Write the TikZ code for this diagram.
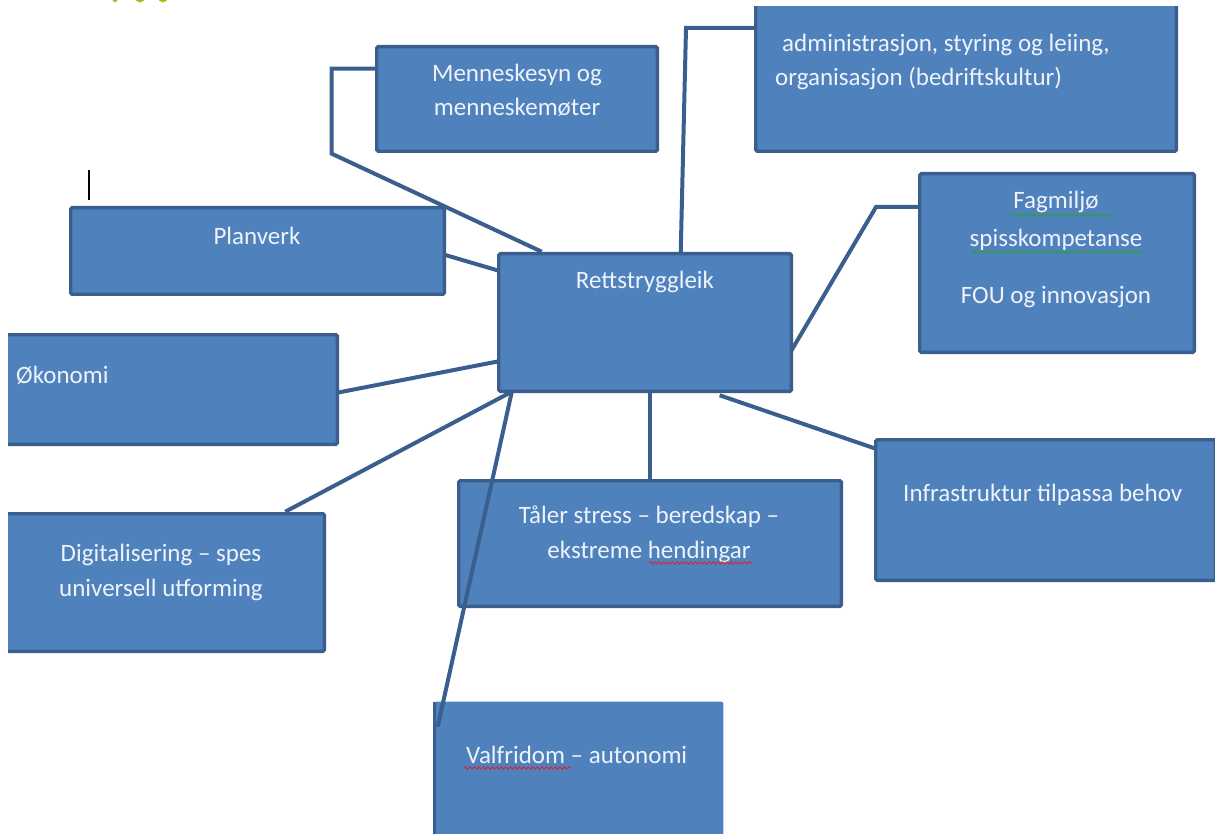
\documentclass[tikz,border=0pt]{standalone}
\usepackage{fontspec}
\setmainfont{Carlito}
\usetikzlibrary{calc,decorations.pathmorphing}

\definecolor{boxfill}{HTML}{4F81BD}
\definecolor{boxline}{HTML}{3A5F8E}
\definecolor{boxtext}{HTML}{EEF3FA}
\definecolor{spellred}{HTML}{D8262E}
\definecolor{spellgreen}{HTML}{2E9E3A}
\definecolor{headgreen}{HTML}{9CC31C}

\tikzset{
  panel/.style={draw=boxline, fill=boxfill, line width=3.4pt, rounded corners=1.5pt,
                inner sep=0pt, outer sep=0pt},
  conn/.style={draw=boxline, line width=4pt, line join=miter},
  lbl/.style={text=boxtext, font=\fontsize{25}{30}\selectfont, inner sep=0pt, anchor=base},
  lblw/.style={lbl, anchor=base west},
  wavy/.style={line width=0.9pt, decorate,
               decoration={snake, segment length=4.5pt, amplitude=1.2pt}},
}

% box given by its outer corners (x1,y1) and (x2,y2)
\newcommand\panelbox[6][]{%
  \node[panel, #1, minimum width={(#5-#3-3.4)*1pt}, minimum height={(#6-#4-3.4)*1pt}]
    (#2) at ({(#3+#5)/2},{(#4+#6)/2}) {};}

\begin{document}
\begin{tikzpicture}[x=1pt, y=-1pt]
\useasboundingbox (0,0) rectangle (1215,834);

% remnants of a green heading above the page edge
\begin{scope}
  \clip (0,0) rectangle (1215,834);
  \fill[headgreen] (115,-3) ellipse [x radius=3, y radius=5.5];
  \fill[headgreen] (140,-3) ellipse [x radius=5, y radius=5.5];
  \fill[headgreen] (163,-3) ellipse [x radius=5, y radius=5.5];
\end{scope}

% text cursor
\draw[black, line width=2.2pt] (89,170) -- (89,200);

% boxes
\begin{scope}
  \clip (8,7) rectangle (1215,834);
  \panelbox{men}{375}{45}{659}{153}
  \panelbox{adm}{754}{-20}{1178}{153}
  \panelbox{fag}{918}{172}{1196}{354}
  \panelbox{plan}{69}{206}{446}{296}
  \panelbox{ret}{497}{252}{793}{393}
  \panelbox{oko}{-20}{333}{339}{446}
  \panelbox{dig}{-20}{512}{326}{653}
  \panelbox{tal}{457}{479}{843}{608}
  \panelbox{inf}{874}{438}{1217}{582}
  \panelbox[draw=none]{val}{433}{700}{725}{850}
  \draw[boxline, line width=3.4pt] (val.north west) -- (val.south west);
\end{scope}

% connectors
\draw[conn] ($(men.north west)+(0,22)$) -- ++(-45,0) -- ++(0,85)
            -- ($(ret.north west)+(43,-2)$);
\draw[conn] ($(ret.north west)+(182,0)$) -- (686,28) -- (adm.west |- 0,28);
\draw[conn] ($(ret.north east)+(0,97)$) -- (876,207) -- (fag.west |- 0,207);
\draw[conn] ($(plan.north east)+(0,47)$) -- ($(ret.north west)+(0,17)$);
\draw[conn] ($(oko.north east)+(0,58)$) -- ($(ret.south west)+(0,-30)$);
\draw[conn] ($(dig.north east)+(-39,-2)$) -- ($(ret.south west)+(12,1)$);
\coordinate (valend) at ($(val.north west)+(3,25)$);
\draw[conn] ($(ret.south west)+(13,1)$) -- (valend);
\draw[conn] (tal.north) -- (tal.north |- ret.south);
\draw[conn] ($(ret.south west)+(221,4)$) -- ($(inf.north west)+(0,9)$);

% labels
\node[lbl]  (men-a) at (517,82)  {Menneskesyn og};
\node[lbl]  (men-b) at (517,116) {menneskemøter};
\node[lblw] (adm-a) at (782,52)  {administrasjon, styring og leiing,};
\node[lblw] (adm-b) at (775,86)  {organisasjon (bedriftskultur)};
\node[lbl]  (fag-a) at (1056,209) {Fagmiljø};
\node[lbl]  (fag-b) at (1056,247) {spisskompetanse};
\node[lbl]  (fag-c) at (1056,304) {FOU og innovasjon};
\node[lbl]  (plan-a) at (257,245) {Planverk};
\node[lbl]  (ret-a) at (645,288) {Rettstryggleik};
\node[lblw] (oko-a) at (16,383)  {Økonomi};
\node[lbl]  (dig-a) at (161,561) {Digitalisering – spes};
\node[lbl]  (dig-b) at (161,596) {universell utforming};
\node[lbl]  (tal-a) at (649,523) {Tåler stress – beredskap –};
\node[lbl]  (tal-b) at (649,558) {ekstreme hendingar};
\node[lblw] (inf-a) at (903,501) {Infrastruktur tilpassa behov};
\node[lblw] (val-a) at (466,763) {Valfridom – autonomi};

% spelling marks
\draw[wavy, spellgreen] (1010,215) -- (1114,215);
\draw[wavy, spellgreen] (972,252) -- (1142,252);
\draw[wavy, spellred] (649,563) -- (752,563);
\draw[wavy, spellred] (464,768) -- (572,768);
\end{tikzpicture}
\end{document}
